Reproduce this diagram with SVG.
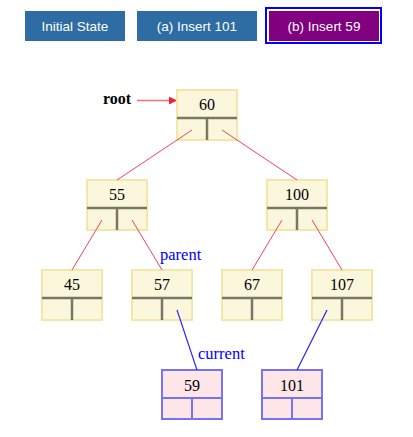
<svg xmlns="http://www.w3.org/2000/svg" width="413" height="437" viewBox="0 0 413 437">
<defs>
<style>
.btn{fill:#2e6da4}
.btxt{font-family:"Liberation Sans",Arial,sans-serif;font-size:13.5px;fill:#ffffff;text-anchor:middle}
.box{fill:#fbf7dc;stroke:#f3e6a6;stroke-width:2}
.nbox{fill:#fde5e8;stroke:#7474f0;stroke-width:2}
.div{stroke:#777766;stroke-width:2.5;fill:none}
.ndiv{stroke:#7474f0;stroke-width:2;fill:none}
.val{font-family:"Liberation Serif","Times New Roman",serif;font-size:16px;fill:#000;text-anchor:middle}
.red{stroke:#ee4455;stroke-width:1;fill:none}
.blue{stroke:#2b2bf0;stroke-width:1.2;fill:none}
.lbl{font-family:"Liberation Serif","Times New Roman",serif;font-size:16.5px;fill:#0000ff}
</style>
<marker id="ah" markerWidth="8" markerHeight="8" refX="7" refY="4" orient="auto" markerUnits="userSpaceOnUse">
<path d="M0,0 L8,4 L0,8 z" fill="#ee2233"/>
</marker>
</defs>
<rect width="413" height="437" fill="#ffffff"/>
<g id="buttons">
<rect class="btn" x="25" y="11" width="100" height="30"/>
<text class="btxt" x="75" y="30.5">Initial State</text>
<rect class="btn" x="137" y="11" width="120" height="30"/>
<text class="btxt" x="197" y="30.5">(a) Insert 101</text>
<rect x="266" y="8" width="115" height="35" fill="none" stroke="#0000ff" stroke-width="2"/>
<rect x="269" y="11" width="110" height="30" fill="#800080"/>
<text class="btxt" x="324" y="30.5">(b) Insert 59</text>
</g>
<g id="root-label">
<text x="103" y="104" font-family="'Liberation Serif','Times New Roman',serif" font-size="16px" font-weight="bold" fill="#000">root</text>
<line x1="137" y1="100.5" x2="176" y2="100.5" stroke="#f07080" stroke-width="1.5" marker-end="url(#ah)"/>
</g>
<g id="node-60">
<rect class="box" x="177" y="90" width="60" height="50"/>
<path class="div" d="M177,118 H237 M207,118 V140"/>
<text class="val" x="207" y="110">60</text>
</g>
<g id="node-55">
<rect class="box" x="87" y="180" width="60" height="50"/>
<path class="div" d="M87,208 H147 M117,208 V230"/>
<text class="val" x="117" y="200">55</text>
</g>
<g id="node-100">
<rect class="box" x="267" y="180" width="60" height="50"/>
<path class="div" d="M267,208 H327 M297,208 V230"/>
<text class="val" x="297" y="200">100</text>
</g>
<g id="node-45">
<rect class="box" x="42" y="270" width="60" height="50"/>
<path class="div" d="M42,298 H102 M72,298 V320"/>
<text class="val" x="72" y="290">45</text>
</g>
<g id="node-57">
<rect class="box" x="132" y="270" width="60" height="50"/>
<path class="div" d="M132,298 H192 M162,298 V320"/>
<text class="val" x="162" y="290">57</text>
</g>
<g id="node-67">
<rect class="box" x="222" y="270" width="60" height="50"/>
<path class="div" d="M222,298 H282 M252,298 V320"/>
<text class="val" x="252" y="290">67</text>
</g>
<g id="node-107">
<rect class="box" x="312" y="270" width="60" height="50"/>
<path class="div" d="M312,298 H372 M342,298 V320"/>
<text class="val" x="342" y="290">107</text>
</g>
<g id="node-59">
<rect class="nbox" x="162" y="370" width="60" height="49"/>
<path class="ndiv" d="M162,398 H222 M192,398 V419"/>
<text class="val" x="192" y="391">59</text>
</g>
<g id="node-101">
<rect class="nbox" x="262" y="370" width="60" height="49"/>
<path class="ndiv" d="M262,398 H322 M292,398 V419"/>
<text class="val" x="292" y="391">101</text>
</g>
<g id="connectors">
<line class="red" x1="192" y1="130" x2="117" y2="180"/>
<line class="red" x1="222" y1="130" x2="297" y2="180"/>
<line class="red" x1="102" y1="220" x2="72" y2="270"/>
<line class="red" x1="132" y1="220" x2="162" y2="270"/>
<line class="red" x1="282" y1="220" x2="252" y2="270"/>
<line class="red" x1="312" y1="220" x2="342" y2="270"/>
<line class="blue" x1="177" y1="310" x2="197" y2="370"/>
<line class="blue" x1="327" y1="310" x2="297" y2="370"/>
</g>
<g id="labels">
<text class="lbl" x="160" y="260">parent</text>
<text class="lbl" x="198" y="359">current</text>
</g>
</svg>
